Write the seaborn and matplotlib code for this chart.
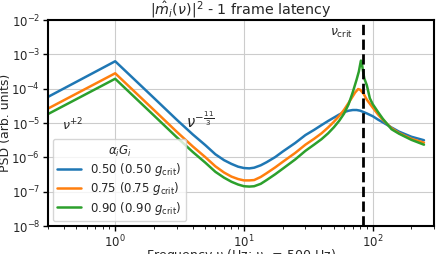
import numpy as np
import pandas as pd
import matplotlib
matplotlib.use("Agg")
import matplotlib.pyplot as plt
import seaborn as sns

# frequencies (Hz) at which the curves were read
freq_blue = [0.3, 1.0, 2.0, 3.0, 4.0, 5.0, 6.0, 7.0, 8.0, 9.0, 10, 11, 12, 13.5, 15, 17.5,
             20, 25, 30, 35, 40, 45, 50, 55, 60, 65, 70, 75, 80, 85, 90, 100, 110, 120,
             140, 160, 200, 250]
log_blue = [-4.24, -3.20, -4.27, -4.90, -5.33, -5.64, -5.91, -6.08, -6.19, -6.27, -6.31,
            -6.32, -6.30, -6.23, -6.14, -5.99, -5.83, -5.58, -5.35, -5.20, -5.06, -4.94,
            -4.84, -4.75, -4.68, -4.64, -4.62, -4.62, -4.64, -4.68, -4.72, -4.80, -4.90,
            -4.98, -5.13, -5.25, -5.40, -5.50]

freq_orange = [0.3, 1.0, 2.0, 3.0, 4.0, 5.0, 6.0, 7.0, 8.0, 9.0, 10, 11, 12, 13.5, 15,
               17.5, 20, 25, 30, 35, 40, 45, 50, 55, 60, 65, 70, 73, 77, 80, 85, 90, 100,
               110, 120, 140, 160, 200, 250]
log_orange = [-4.58, -3.55, -4.62, -5.25, -5.68, -5.99, -6.26, -6.44, -6.56, -6.63, -6.67,
              -6.67, -6.66, -6.57, -6.46, -6.29, -6.13, -5.87, -5.63, -5.46, -5.30, -5.13,
              -4.96, -4.79, -4.61, -4.41, -4.22, -4.11, -4.01, -4.03, -4.15, -4.32, -4.55,
              -4.75, -4.91, -5.15, -5.29, -5.46, -5.57]

freq_green = [0.3, 1.0, 2.0, 3.0, 4.0, 5.0, 6.0, 7.0, 8.0, 9.0, 10, 11, 12, 13.5, 15, 17.5,
              20, 25, 30, 35, 40, 45, 50, 55, 60, 65, 70, 75, 78, 80, 81, 82, 84, 86, 88,
              90, 95, 100, 110, 120, 140, 160, 200, 250]
log_green = [-4.74, -3.71, -4.78, -5.41, -5.84, -6.15, -6.42, -6.59, -6.71, -6.79, -6.84,
             -6.85, -6.84, -6.77, -6.66, -6.49, -6.33, -6.06, -5.81, -5.63, -5.47, -5.30,
             -5.12, -4.93, -4.72, -4.45, -4.10, -3.73, -3.50, -3.28, -3.18, -3.22, -3.48,
             -3.70, -3.80, -3.90, -4.28, -4.45, -4.68, -4.88, -5.18, -5.31, -5.49, -5.63]

labels = [r"0.50 (0.50 $g_{\rm crit}$)", r"0.75 (0.75 $g_{\rm crit}$)",
          r"0.90 (0.90 $g_{\rm crit}$)"]
nu_crit = 500 / 6

frames = []
for lab, f, lv in zip(labels, [freq_blue, freq_orange, freq_green],
                      [log_blue, log_orange, log_green]):
    frames.append(pd.DataFrame({"freq": f, "psd": 10 ** np.array(lv), "gain": lab}))
df = pd.concat(frames, ignore_index=True)

sns.set_style("whitegrid")
plt.rcParams["font.family"] = ["DejaVu Sans"]
plt.rcParams["mathtext.fontset"] = "dejavusans"

fig = plt.figure(figsize=(4.39, 2.54), dpi=100)
ax = fig.add_axes([0.109, 0.110, 0.880, 0.811])

sns.lineplot(data=df, x="freq", y="psd", hue="gain", palette="tab10", linewidth=1.8,
             sort=False, ax=ax)
ax.axvline(nu_crit, color="black", linestyle="--", linewidth=2)

ax.set_xscale("log")
ax.set_yscale("log")
ax.set_xlim(0.3, 300)
ax.set_ylim(1e-8, 1e-2)
ax.yaxis.set_major_locator(matplotlib.ticker.LogLocator(base=10, numticks=10))
ax.yaxis.set_minor_locator(matplotlib.ticker.NullLocator())

for sp in ax.spines.values():
    sp.set_color("black")
    sp.set_linewidth(1.5)
ax.tick_params(axis="both", which="major", length=3.5, width=1, color="black",
               labelsize=8.5, pad=2, bottom=True, left=True)
ax.tick_params(axis="x", which="minor", length=2, width=0.6, color="black", bottom=True)

ax.text(0.47, 8.7e-6, r"$\nu^{+2}$", fontsize=9, ha="center", va="center")
ax.text(4.6, 1.2e-5, r"$\nu^{-\frac{11}{3}}$", fontsize=10.5, ha="center", va="center")
ax.text(70, 4e-3, r"$\nu_{\rm crit}$", fontsize=9, ha="right", va="center")

ax.set_title(r"$|\hat{m}_i(\nu)|^2$ - 1 frame latency", fontsize=10.3, pad=3)
ax.set_xlabel(r"Frequency $\nu$ (Hz; $\nu_c$ = 500 Hz)", fontsize=9)
ax.xaxis.set_label_coords(0.5, -0.1)
ax.set_ylabel("PSD (arb. units)", fontsize=9)
ax.yaxis.set_label_coords(-0.092, 0.5)

ax.legend(title=r"$\alpha_i G_i$", loc="lower left", fontsize=8.5, title_fontsize=8.5,
          framealpha=0.8, borderaxespad=0.4, handlelength=2.0, labelspacing=0.2)

fig.savefig("out.png", dpi=100)
